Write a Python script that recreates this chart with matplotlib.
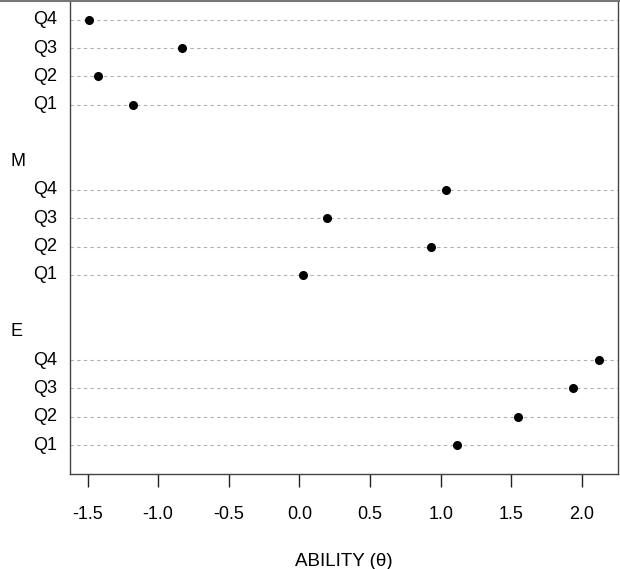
import matplotlib
matplotlib.use('Agg')
import matplotlib.pyplot as plt
from matplotlib.lines import Line2D

plt.rcParams['font.family'] = ['Liberation Sans', 'DejaVu Sans']

# groups from bottom to top of the chart, each with Q1..Q4
groups = ['E', 'M', '']
quarters = ['Q1', 'Q2', 'Q3', 'Q4']
ability_E = [1.115, 1.546, 1.935, 2.12]
ability_M = [0.025, 0.93, 0.195, 1.037]
ability_top = [-1.18, -1.426, -0.83, -1.49]
all_vals = [ability_E, ability_M, ability_top]

fig = plt.figure(figsize=(6.2, 5.69), dpi=100)
ax = fig.add_axes([70/620, 1 - 474/569, 548/620, (474 + 37)/569])
ytr = ax.get_yaxis_transform()

row = 1
for gi, vals in enumerate(all_vals):
    ys = [row + i for i in range(4)]
    for y in ys:
        ax.axhline(y, color='#b0b0b0', lw=0.8, ls=(0, (3, 3)), zorder=1)
    ax.plot(vals, ys, 'o', color='black', ms=5.5, zorder=3)
    for y, q in zip(ys, quarters):
        ax.text(-13/548, y, q, transform=ytr, ha='right', va='center', fontsize=13)
    if groups[gi]:
        ax.text(-60/548, row + 4, groups[gi], transform=ytr, ha='left', va='center', fontsize=13)
    row += 6

ax.set_xlim(-1.624, 2.254)
ax.set_ylim(-0.02, 18)
ax.set_yticks([])
ax.set_xticks([-1.5, -1.0, -0.5, 0.0, 0.5, 1.0, 1.5, 2.0])
ax.set_xticklabels(['-1.5', '-1.0', '-0.5', '0.0', '0.5', '1.0', '1.5', '2.0'], fontsize=13)
ax.tick_params(axis='x', length=9, width=1, pad=14, color='#222222')
for s in ax.spines.values():
    s.set_color('#444444')
    s.set_linewidth(1)
ax.set_xlabel('ABILITY (θ)', fontsize=13.5, labelpad=22)

fig.add_artist(Line2D([0, 1], [1 - 0.5/569, 1 - 0.5/569], color='#777777', lw=1.5, transform=fig.transFigure))

fig.savefig('out.png', dpi=100)
